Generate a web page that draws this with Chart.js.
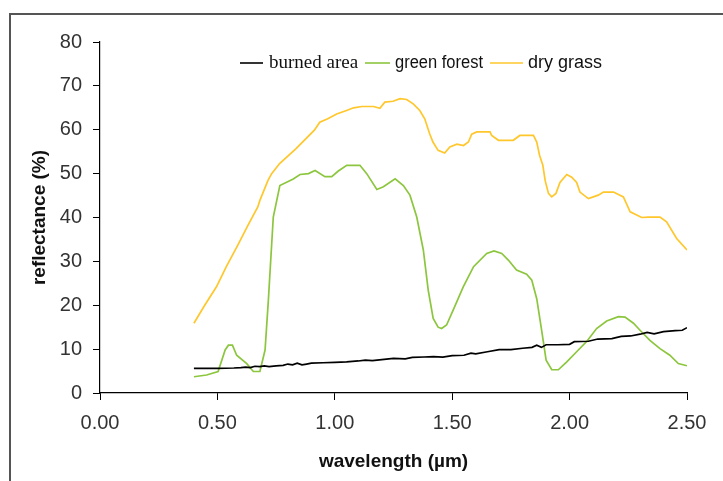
<!DOCTYPE html>
<html><head><meta charset="utf-8">
<script src="https://cdn.jsdelivr.net/npm/chart.js@4/dist/chart.umd.min.js"></script>
<style>html,body{margin:0;padding:0;background:#fff;}#wrap{width:723px;height:481px;}</style>
</head><body><div id="wrap"><canvas id="c" width="723" height="481"></canvas></div>
<script>
const seriesNames = ['burned area', 'green forest', 'dry grass'];
const xTickValues = [0, 0.5, 1.0, 1.5, 2.0, 2.5];

const burnedWl = [0.40,0.50,0.57,0.60,0.62,0.64,0.66,0.68,0.70,0.72,0.75,0.78,0.80,0.82,0.84,0.86,0.88,0.90,0.95,1.00,1.05,1.10,1.13,1.16,1.20,1.25,1.30,1.33,1.38,1.42,1.46,1.50,1.55,1.58,1.60,1.65,1.70,1.75,1.80,1.84,1.86,1.88,1.90,1.95,2.00,2.02,2.08,2.12,2.18,2.22,2.26,2.30,2.33,2.36,2.40,2.45,2.48,2.50];
const burnedVal = [5.6,5.6,5.7,5.8,5.9,5.8,6.1,6.0,6.2,6.0,6.2,6.3,6.6,6.4,6.8,6.4,6.6,6.8,6.9,7.0,7.1,7.3,7.5,7.4,7.6,7.9,7.8,8.1,8.2,8.3,8.2,8.5,8.6,9.1,8.9,9.4,9.9,9.9,10.2,10.4,10.9,10.4,11.0,11.0,11.1,11.7,11.8,12.3,12.4,12.9,13.0,13.4,13.8,13.5,14.0,14.2,14.3,14.9];

const forestWl = [0.40,0.454,0.503,0.533,0.547,0.564,0.582,0.625,0.653,0.681,0.703,0.717,0.738,0.766,0.823,0.852,0.888,0.916,0.958,0.987,1.015,1.051,1.107,1.136,1.179,1.207,1.257,1.292,1.320,1.349,1.377,1.398,1.419,1.440,1.455,1.476,1.505,1.547,1.591,1.647,1.678,1.711,1.739,1.774,1.817,1.839,1.860,1.881,1.900,1.924,1.952,1.988,2.030,2.072,2.115,2.158,2.208,2.236,2.272,2.300,2.342,2.385,2.427,2.463,2.50];
const forestVal = [3.7,4.1,4.9,9.8,10.9,10.9,8.6,6.7,4.9,4.9,9.8,21.1,40.1,47.3,48.8,49.8,50.0,50.7,49.3,49.3,50.6,51.9,51.9,50.0,46.4,47.0,48.8,47.3,45.1,40.1,32.6,23.4,17.0,15.0,14.7,15.5,19.0,24.2,28.8,31.8,32.4,31.8,30.3,28.0,27.1,25.7,21.5,14.3,7.5,5.3,5.3,7.1,9.4,11.7,14.7,16.4,17.4,17.3,15.9,14.3,12.0,10.1,8.6,6.7,6.2];

const grassWl = [0.40,0.446,0.496,0.538,0.587,0.630,0.672,0.681,0.715,0.731,0.765,0.835,0.913,0.936,0.970,1.008,1.050,1.080,1.115,1.165,1.192,1.213,1.248,1.278,1.306,1.334,1.362,1.383,1.404,1.418,1.440,1.468,1.490,1.520,1.548,1.569,1.583,1.605,1.661,1.668,1.697,1.760,1.788,1.846,1.860,1.872,1.886,1.896,1.910,1.924,1.942,1.959,1.988,2.009,2.030,2.044,2.080,2.101,2.122,2.144,2.187,2.229,2.258,2.307,2.336,2.385,2.413,2.456,2.50];
const grassVal = [15.9,20.0,24.2,28.8,33.7,38.2,42.4,43.9,48.4,50.0,52.3,55.7,59.9,61.7,62.5,63.6,64.4,65.0,65.3,65.3,64.9,66.3,66.5,67.1,66.9,65.9,64.4,62.5,59.1,57.2,55.3,54.7,56.1,56.7,56.4,57.2,59.0,59.5,59.5,58.7,57.6,57.6,58.7,58.7,57.2,54.2,51.9,48.4,45.5,44.7,45.5,48.0,49.8,49.2,48.0,45.8,44.3,44.7,45.1,45.8,45.8,44.7,41.3,40.0,40.1,40.1,39.0,35.2,32.6];

const colors = ['#000000', '#8CC63E', '#FFC72C'];
const toPts = (xs, ys) => xs.map((x, i) => ({x: x, y: ys[i]}));
const seriesData = [toPts(burnedWl, burnedVal), toPts(forestWl, forestVal), toPts(grassWl, grassVal)];

const framePlugin = {
  id: 'frame',
  beforeDraw(chart) {
    const ctx = chart.ctx;
    ctx.save();
    ctx.strokeStyle = '#555';
    ctx.lineWidth = 2;
    ctx.beginPath();
    ctx.moveTo(10, 481);
    ctx.lineTo(10, 14);
    ctx.lineTo(723, 14);
    ctx.stroke();
    ctx.restore();
  }
};

const legendPlugin = {
  id: 'customLegend',
  afterDraw(chart) {
    const ctx = chart.ctx;
    const items = [
      {line: [240, 263], tx: 269, w: 92, font: '19px "Liberation Serif", "Times New Roman", serif'},
      {line: [365, 390], tx: 395, w: 88, font: '18px "Liberation Sans", Arial, sans-serif'},
      {line: [490, 523], tx: 528, w: 80, font: '18px "Liberation Sans", Arial, sans-serif'}
    ];
    ctx.save();
    items.forEach((it, i) => {
      const ds = chart.data.datasets[i];
      ctx.strokeStyle = ds.borderColor;
      ctx.lineWidth = 1.6;
      ctx.beginPath();
      ctx.moveTo(it.line[0], 63);
      ctx.lineTo(it.line[1], 63);
      ctx.stroke();
      ctx.fillStyle = '#111';
      ctx.font = it.font;
      ctx.textBaseline = 'alphabetic';
      ctx.textAlign = 'left';
      ctx.fillText(ds.label, it.tx, 67.5, it.w);
    });
    ctx.restore();
  }
};

new Chart(document.getElementById('c'), {
  type: 'line',
  data: {
    datasets: seriesNames.map((n, i) => ({
      label: n,
      data: seriesData[i],
      borderColor: colors[i],
      backgroundColor: colors[i],
      borderWidth: 1.7,
      pointRadius: 0,
      tension: 0,
      fill: false
    }))
  },
  options: {
    responsive: false,
    animation: false,
    layout: {padding: {top: 42, right: 36, bottom: 0, left: 0}},
    plugins: {legend: {display: false}, tooltip: {enabled: false}},
    scales: {
      x: {
        type: 'linear', min: 0, max: 2.5,
        afterBuildTicks(scale) { scale.ticks = xTickValues.map(v => ({value: v})); },
        afterFit(scale) { scale.height = 88; },
        grid: {drawOnChartArea: false, drawTicks: true, tickLength: 7, color: '#000', lineWidth: 1},
        border: {display: true, color: '#000', width: 1.2},
        ticks: {color: '#333', font: {family: '"Liberation Sans", Arial, sans-serif', size: 20}, padding: 11,
                maxRotation: 0, autoSkip: false, callback: v => Number(v).toFixed(2)},
        title: {display: true, text: 'wavelength (µm)', color: '#111',
                font: {family: '"Liberation Sans", Arial, sans-serif', size: 19, weight: 'bold'},
                padding: {top: 0, bottom: 8}}
      },
      y: {
        min: 0, max: 80,
        afterFit(scale) { scale.width = 100; },
        grid: {drawOnChartArea: false, drawTicks: true, tickLength: 7, color: '#000', lineWidth: 1},
        border: {display: true, color: '#000', width: 1.2},
        ticks: {stepSize: 10, color: '#333', font: {family: '"Liberation Sans", Arial, sans-serif', size: 20}, padding: 11},
        title: {display: true, text: 'reflectance (%)', color: '#111',
                font: {family: '"Liberation Sans", Arial, sans-serif', size: 19, weight: 'bold'},
                padding: {top: 28, bottom: 0}}
      }
    }
  },
  plugins: [framePlugin, legendPlugin]
});
</script>
</body></html>
